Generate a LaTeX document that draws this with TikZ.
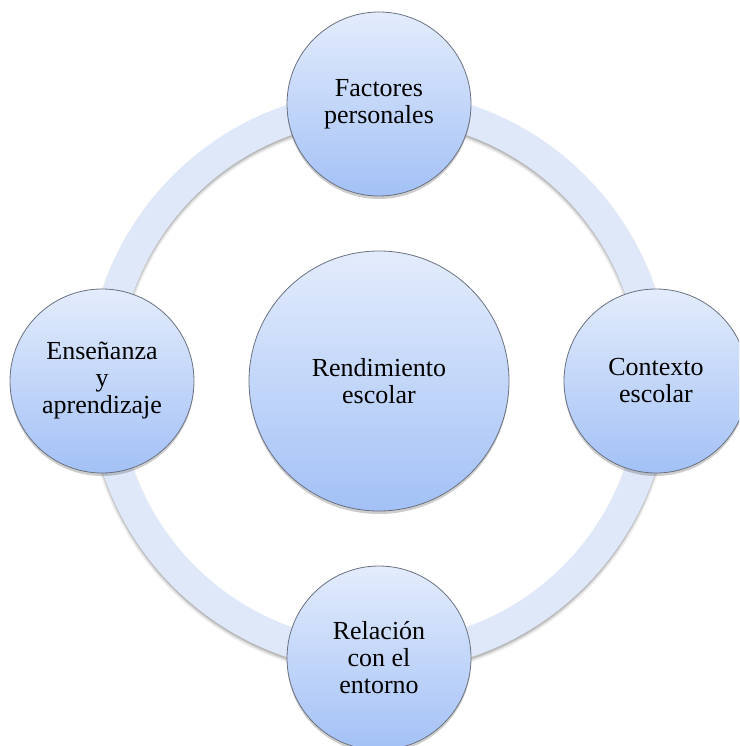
\documentclass[tikz,border=0pt]{standalone}
\usepackage{fontspec}
\setmainfont{Liberation Serif}
\newfontfamily\bubblefont{Liberation Serif}
\usetikzlibrary{shadows}
\definecolor{ringcol}{HTML}{DEE8F9}
\definecolor{ctop}{HTML}{E3ECFC}
\definecolor{cbot}{HTML}{A3C1F6}
\definecolor{edgecol}{HTML}{6A7180}
\tikzset{
  bubble/.style={circle, inner sep=0pt, minimum size=#1,
    top color=ctop, bottom color=cbot, draw=edgecol, line width=0.8pt,
    align=center, text=black, font=\bubblefont\fontsize{26}{27}\selectfont,
    drop shadow={shadow xshift=0pt, shadow yshift=-3pt, opacity=0.28, fill=black!70}},
}
\begin{document}
\begin{tikzpicture}[x=1pt,y=-1pt]
\useasboundingbox (0,0) rectangle (739,746);
\clip (0,0) rectangle (739,746);
\coordinate (c) at (379,381);
% ring shadow (soft, offset downward)
\draw[black, opacity=0.06, line width=34pt] ([yshift=-3pt]c) circle [radius=276pt];
\draw[black, opacity=0.10, line width=31pt] ([yshift=-3pt]c) circle [radius=276pt];
\draw[black, opacity=0.14, line width=29pt] ([yshift=-2.5pt]c) circle [radius=276pt];
% ring
\draw[ringcol, line width=30pt] (c) circle [radius=276pt];
% nodes
\node[bubble=260pt] (rc) at (c) {Rendimiento\\escolar};
\node[bubble=184pt] (fp) at (379,104) {Factores\\personales};
\node[bubble=184pt] (ce) at (656,381) {Contexto\\escolar};
\node[bubble=184pt] (re) at (379,658) {Relación\\con el\\entorno};
\node[bubble=184pt] (ea) at (102,381) {Enseñanza\\y\\aprendizaje};
\end{tikzpicture}
\end{document}
